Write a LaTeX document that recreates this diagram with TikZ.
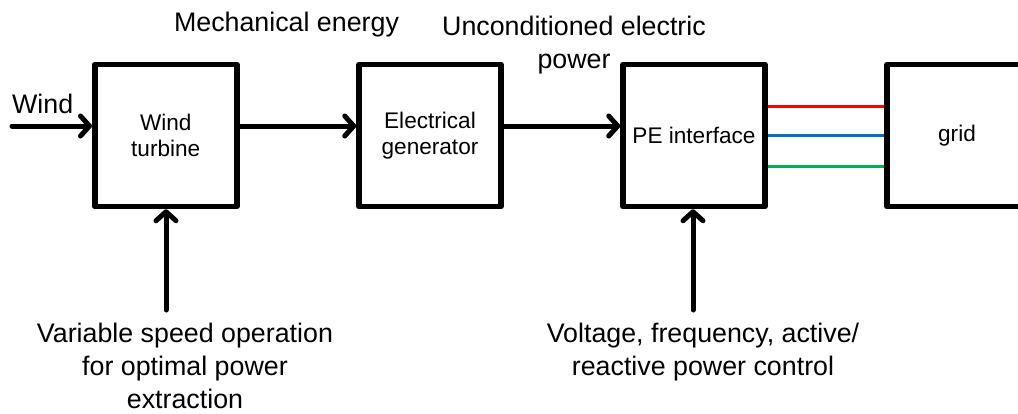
\documentclass[tikz,border=0pt]{standalone}
\usepackage{fontspec}
\setmainfont{Liberation Sans}
\usetikzlibrary{arrows.meta}
\definecolor{phR}{HTML}{FF0000}
\definecolor{phB}{HTML}{0070C0}
\definecolor{phG}{HTML}{00B050}
\begin{document}
\begin{tikzpicture}[x=1pt,y=-1pt,
  blk/.style={draw, line width=5.5pt, line join=round, minimum width=142pt, minimum height=142pt, inner sep=0pt, align=center, font=\fontsize{22.6}{25.7}\selectfont},
  flow/.style={line width=5pt, line cap=round, -{Straight Barb[length=9pt,width=20pt,line cap=round,line join=round]}},
  lbl/.style={inner sep=0pt, align=center, font=\fontsize{26.8}{33}\selectfont},
  phase/.style={line width=3pt}]
\useasboundingbox (0,0) rectangle (1018,413);
\node[blk] (wt) at (165.75,135.5) {Wind\\turbine};
\node[blk] (eg) at (430,135.5) {Electrical\\generator};
\node[blk] (pe) at (694,135.5) {PE interface};
\node[blk, minimum width=140pt] (gr) at (957,135.5) {grid};
\coordinate (win) at (12,126);
\coordinate (ctlA) at (166,310);
\coordinate (ctlB) at (693,310);
\draw[flow] (win) -- (wt.west |- win);
\draw[flow] ([yshift=9.5pt]wt.east) -- ([yshift=9.5pt]eg.west);
\draw[flow] ([yshift=9.5pt]eg.east) -- ([yshift=9.5pt]pe.west);
\draw[flow] (ctlA) -- (wt.south -| ctlA);
\draw[flow] (ctlB) -- (pe.south -| ctlB);
\draw[phase, phR] ([yshift=29.5pt]pe.east) -- ([yshift=29.5pt]gr.west);
\draw[phase, phB] (pe.east) -- (gr.west);
\draw[phase, phG] ([yshift=-30.5pt]pe.east) -- ([yshift=-30.5pt]gr.west);
\node[lbl, anchor=base west] (wl) at (12,113) {Wind};
\node[lbl, anchor=base] (me) at (286.5,31.7) {Mechanical energy};
\node[lbl, anchor=base] (ue) at (574,68) {Unconditioned electric\\power};
\node[lbl, anchor=base] (vs) at (185,408) {Variable speed operation\\for optimal power\\extraction};
\node[lbl, anchor=base] (vf) at (703,375) {Voltage, frequency, active/\\reactive power control};
\end{tikzpicture}
\end{document}
